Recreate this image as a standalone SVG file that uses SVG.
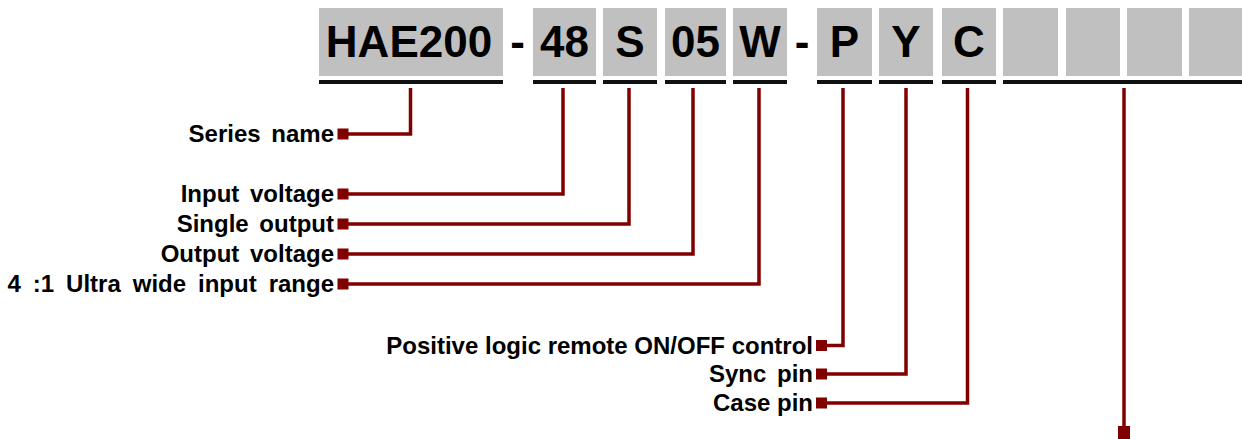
<svg xmlns="http://www.w3.org/2000/svg" width="1242" height="439" viewBox="0 0 1242 439">
<style>
.box{fill:#c0c0c0}
.ul{fill:#111}
.code{font-family:"Liberation Sans",Arial,sans-serif;font-weight:bold;font-size:44px;fill:#000;text-anchor:middle}
.lbl{font-family:"Liberation Sans",Arial,sans-serif;font-weight:bold;font-size:24px;fill:#000;text-anchor:end}
.ws{word-spacing:4px}
.ws2{word-spacing:5.3px}
.con{fill:none;stroke:#800000;stroke-width:3.5}
.sq{fill:#800000}
</style>
<rect width="1242" height="439" fill="#fff"/>
<g id="code">
  <g id="n-hae200"><rect class="box" x="319" y="8" width="184" height="68"/><rect class="ul" x="319" y="80" width="184" height="4"/><text class="code" x="409" y="57">HAE200</text></g>
  <g id="n-dash1"><text class="code" x="517.5" y="57">-</text></g>
  <g id="n-48"><rect class="box" x="533" y="8" width="63" height="68"/><rect class="ul" x="533" y="80" width="63" height="4"/><text class="code" x="564.5" y="57">48</text></g>
  <g id="n-s"><rect class="box" x="603" y="8" width="54" height="68"/><rect class="ul" x="603" y="80" width="54" height="4"/><text class="code" x="630" y="57">S</text></g>
  <g id="n-05"><rect class="box" x="665" y="8" width="61" height="68"/><rect class="ul" x="665" y="80" width="61" height="4"/><text class="code" x="695.5" y="57">05</text></g>
  <g id="n-w"><rect class="box" x="733" y="8" width="54" height="68"/><rect class="ul" x="733" y="80" width="54" height="4"/><text class="code" x="760" y="57">W</text></g>
  <g id="n-dash2"><text class="code" x="802" y="57">-</text></g>
  <g id="n-p"><rect class="box" x="817" y="8" width="55" height="68"/><rect class="ul" x="817" y="80" width="55" height="4"/><text class="code" x="844.5" y="57">P</text></g>
  <g id="n-y"><rect class="box" x="879" y="8" width="54" height="68"/><rect class="ul" x="879" y="80" width="54" height="4"/><text class="code" x="906" y="57">Y</text></g>
  <g id="n-c"><rect class="box" x="942" y="8" width="54" height="68"/><rect class="ul" x="942" y="80" width="54" height="4"/><text class="code" x="969" y="57">C</text></g>
  <g id="n-blank"><rect class="box" x="1003" y="8" width="55" height="68"/><rect class="box" x="1066" y="8" width="54" height="68"/><rect class="box" x="1127" y="8" width="55" height="68"/><rect class="box" x="1189" y="8" width="53" height="68"/><rect class="ul" x="1003" y="80" width="239" height="4"/></g>
</g>
<g id="labels">
  <g id="l-series"><text class="lbl ws" x="334" y="142">Series name</text></g>
  <g id="l-input"><text class="lbl ws" x="334" y="202">Input voltage</text></g>
  <g id="l-single"><text class="lbl ws" x="334" y="232">Single output</text></g>
  <g id="l-outv"><text class="lbl ws" x="334" y="262">Output voltage</text></g>
  <g id="l-range"><text class="lbl ws2" x="334" y="292">4 :1 Ultra wide input range</text></g>
  <g id="l-pos"><text class="lbl" x="813" y="354">Positive logic remote ON/OFF control</text></g>
  <g id="l-sync"><text class="lbl ws" x="813" y="382">Sync pin</text></g>
  <g id="l-case"><text class="lbl" x="813" y="411">Case pin</text></g>
</g>
<g id="connectors">
  <path class="con" d="M410.5 88V134H345"/>
  <path class="con" d="M563 88V194H345"/>
  <path class="con" d="M629 88V224H345"/>
  <path class="con" d="M693 88V254H345"/>
  <path class="con" d="M759 88V284H345"/>
  <path class="con" d="M843 88V345.5H822"/>
  <path class="con" d="M906 88V374H822"/>
  <path class="con" d="M967.5 88V403H822"/>
  <path class="con" d="M1124 88V430"/>
  <rect class="sq" x="337.5" y="128.5" width="11" height="11"/>
  <rect class="sq" x="337.5" y="188.5" width="11" height="11"/>
  <rect class="sq" x="337.5" y="218.5" width="11" height="11"/>
  <rect class="sq" x="337.5" y="248.5" width="11" height="11"/>
  <rect class="sq" x="337.5" y="278.5" width="11" height="11"/>
  <rect class="sq" x="816" y="340" width="11" height="11"/>
  <rect class="sq" x="816" y="368.5" width="11" height="11"/>
  <rect class="sq" x="816" y="397.5" width="11" height="11"/>
  <rect class="sq" x="1118" y="426" width="12" height="13"/>
</g>
</svg>
